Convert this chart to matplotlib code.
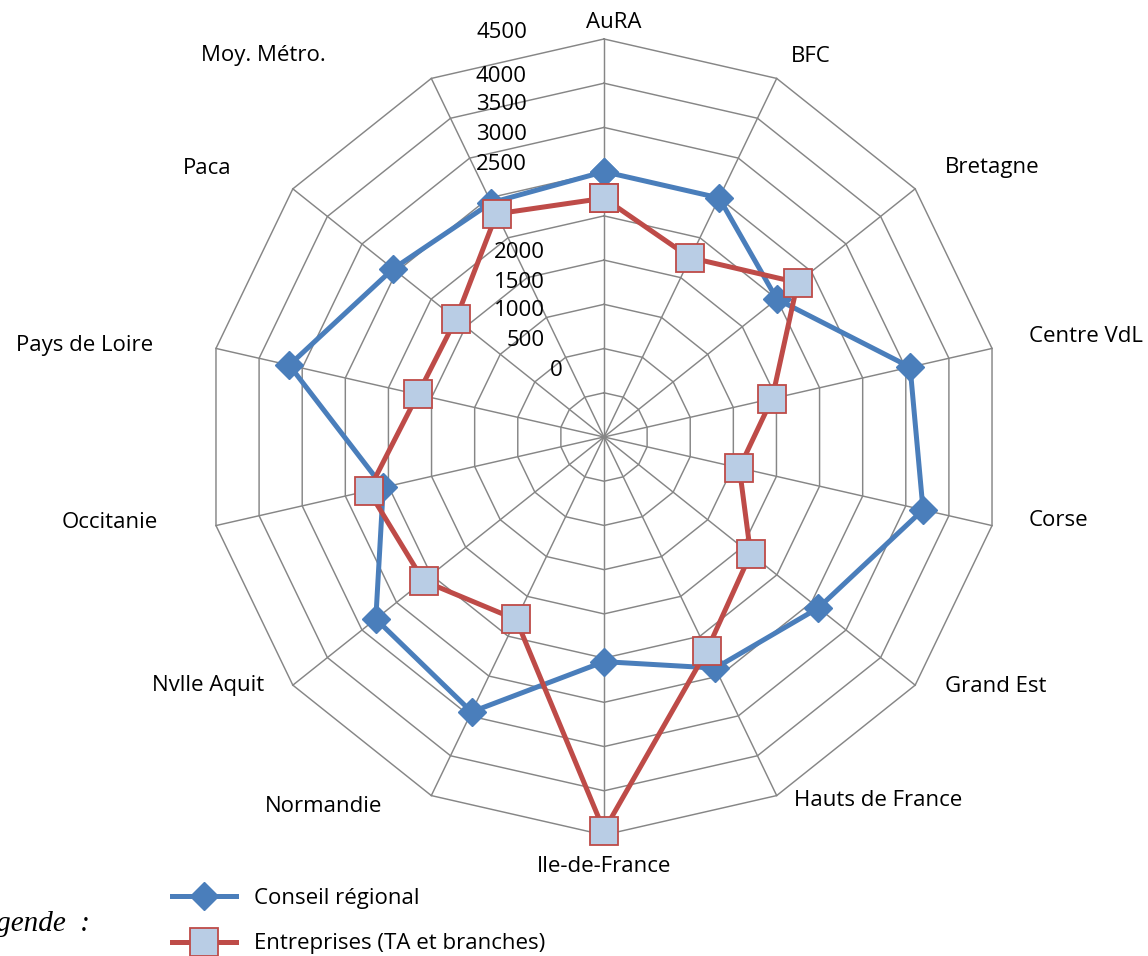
import numpy as np
import matplotlib
matplotlib.use("Agg")
import matplotlib.pyplot as plt

# ---------------- data ----------------
categories = ["AuRA", "BFC", "Bretagne", "Centre VdL", "Corse", "Grand Est",
              "Hauts de France", "Ile-de-France", "Normandie", "Nvlle Aquit",
              "Occitanie", "Pays de Loire", "Paca", "Moy. Métro."]
conseil_regional = [3000, 3000, 2500, 3550, 3700, 3100, 2900, 2540, 3450, 3300,
                    2560, 3650, 3050, 2940]
entreprises = [2700, 2250, 2800, 1950, 1570, 2120, 2680, 4450, 2290, 2610,
               2730, 2160, 2140, 2800]
ring_values = [0, 500, 1000, 1500, 2000, 2500, 3000, 3500, 4000, 4500]
series_names = ["Conseil régional", "Entreprises (TA et branches)"]

# ---------------- layout / style ----------------
W, H = 1148, 956
CX, CY, R = 604, 437, 398
BLUE = "#4A7EBB"
RED = "#BE4B48"
FILL = "#B9CDE5"
GRID = "#868686"
FONT = "Open Sans"
FS = 16

# label anchors (pixel centres) - layout only
label_xy = [(614, 22), (811, 56), (992, 168), (1086, 336), (1058, 520),
            (996, 686), (878, 800), (604, 866), (324, 806), (208, 686),
            (110, 523), (85, 346), (207, 168), (263, 56)]
tick_xy = [(563, 370), (545, 340), (545, 311), (545, 282), (545, 252),
           (527, 164), (527, 134), (527, 105), (527, 76), (527, 32)]

fig = plt.figure(figsize=(W / 100, H / 100), dpi=100)
ax = fig.add_axes([(CX - R) / W, (H - CY - R) / H, 2 * R / W, 2 * R / H],
                  projection="polar")
ax.set_theta_zero_location("N")
ax.set_theta_direction(-1)
ax.set_ylim(0, ring_values[-1])
ax.grid(False)
ax.spines["polar"].set_visible(False)
ax.set_xticks([])
ax.set_yticks([])
ax.patch.set_alpha(0)

n = len(categories)
theta = np.arange(n) * 2 * np.pi / n
theta_closed = np.append(theta, theta[0])

# polygon grid
for rv in ring_values[1:]:
    ax.plot(theta_closed, [rv] * (n + 1), color=GRID, lw=1.05, zorder=1,
            clip_on=False)
for t in theta:
    ax.plot([t, t], [0, ring_values[-1]], color=GRID, lw=1.05, zorder=1,
            clip_on=False)

# series
cr = np.append(conseil_regional, conseil_regional[0])
en = np.append(entreprises, entreprises[0])
l1, = ax.plot(theta_closed, cr, color=BLUE, lw=3.6, marker="D", markersize=14,
              markerfacecolor=BLUE, markeredgecolor=BLUE, zorder=3,
              clip_on=False, label=series_names[0])
l2, = ax.plot(theta_closed, en, color=RED, lw=3.6, marker="s", markersize=20,
              markerfacecolor=FILL, markeredgecolor=RED, markeredgewidth=1.3,
              zorder=4, clip_on=False, label=series_names[1])

# category labels
for cat, (x, y) in zip(categories, label_xy):
    fig.text(x / W, 1 - y / H, cat, ha="center", va="center",
             fontsize=FS, family=FONT, color="black")

# value labels
for v, (x, y) in zip(ring_values, tick_xy):
    fig.text(x / W, 1 - y / H, str(v), ha="right", va="center",
             fontsize=FS, family=FONT, color="black")

# legend
leg = fig.legend(handles=[l1, l2], loc="upper left",
                 bbox_to_anchor=(172 / W, 1 - 888 / H), frameon=False,
                 prop={"family": FONT, "size": FS}, handlelength=2.9,
                 handletextpad=0.8, labelspacing=1.1, borderpad=0,
                 borderaxespad=0)

fig.text(90 / W, 1 - 931 / H, "Légende  :", ha="right", va="baseline",
         fontsize=21, family="Liberation Serif", style="italic")

fig.savefig("out.png", dpi=100)
